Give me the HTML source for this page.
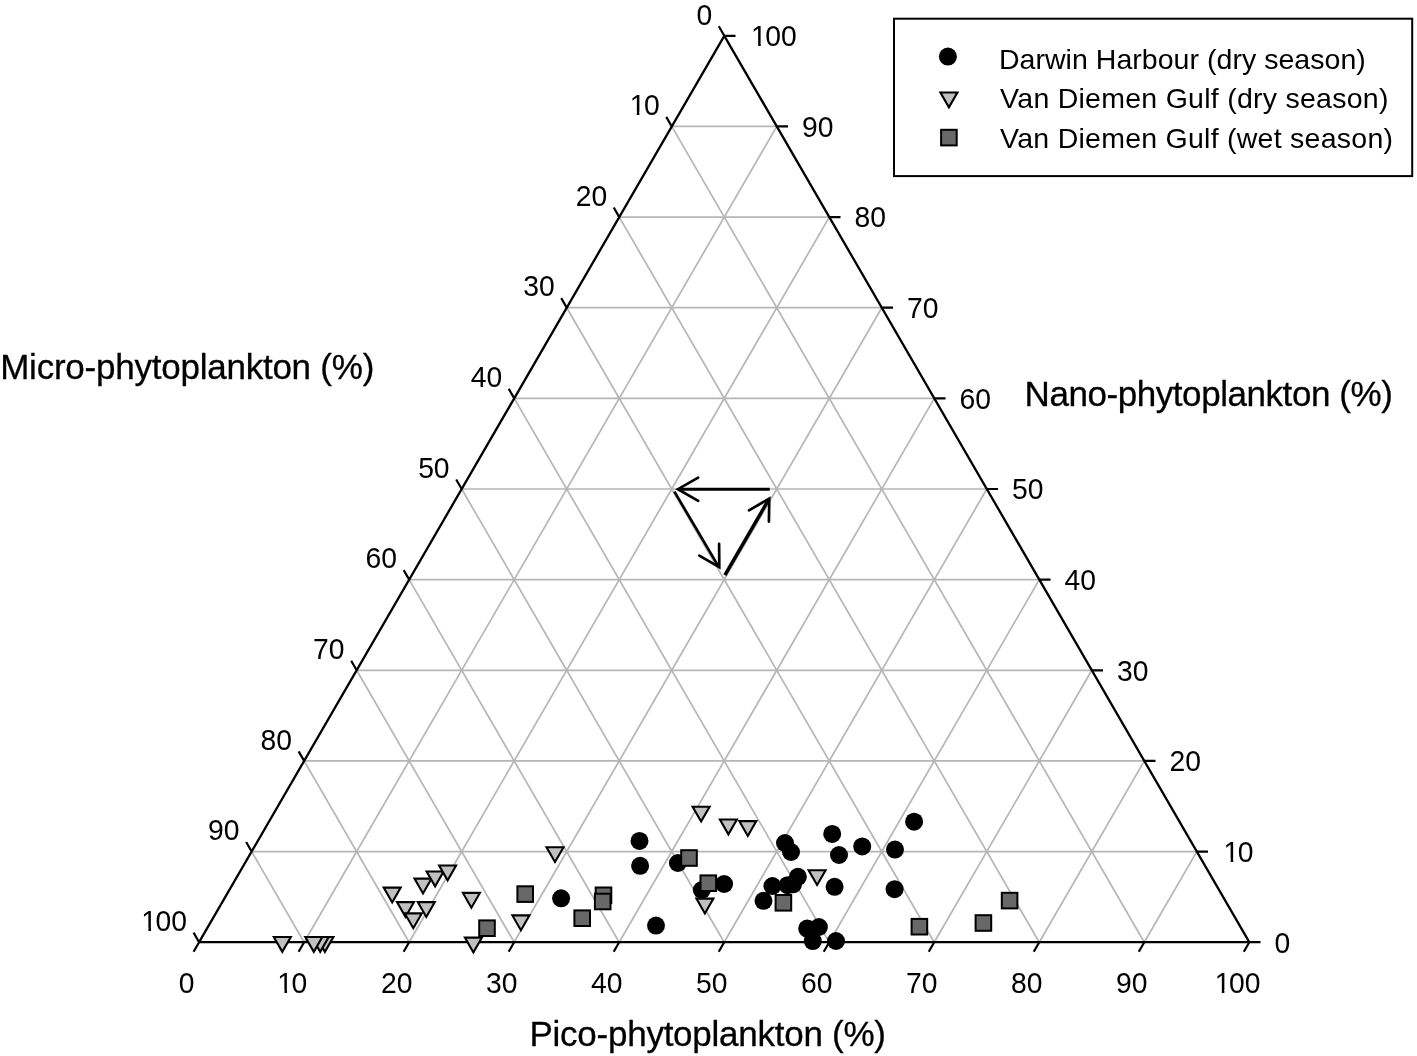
<!DOCTYPE html>
<html><head><meta charset="utf-8"><style>
html,body{margin:0;padding:0;background:#fff;overflow:hidden;}
svg{display:block;}
text{font-family:"Liberation Sans", sans-serif;fill:#000;}
.tl{font-size:28.3px;}
.ax{font-size:35px;stroke:#000;stroke-width:0.3px;}
.lg{font-size:28.5px;}
.tr{fill:#c0c0c0;stroke:#000;stroke-width:2.1;stroke-linejoin:miter;}
.sq{fill:#686868;stroke:#000;stroke-width:2;}
</style></head><body>
<svg width="1417" height="1056" viewBox="0 0 1417 1056">
<path d="M251.62 851.56L1196.8 851.56M304.12 942.2L776.8 126.44M1144.28 942.2L671.78 126.44M304.14 760.92L1144.3 760.92M409.14 942.2L829.3 217.08M1039.26 942.2L619.26 217.08M356.66 670.28L1091.8 670.28M514.16 942.2L881.8 307.72M934.24 942.2L566.74 307.72M409.18 579.64L1039.3 579.64M619.18 942.2L934.3 398.36M829.22 942.2L514.22 398.36M461.7 489L986.8 489M724.2 942.2L986.8 489M724.2 942.2L461.7 489M514.22 398.36L934.3 398.36M829.22 942.2L1039.3 579.64M619.18 942.2L409.18 579.64M566.74 307.72L881.8 307.72M934.24 942.2L1091.8 670.28M514.16 942.2L356.66 670.28M619.26 217.08L829.3 217.08M1039.26 942.2L1144.3 760.92M409.14 942.2L304.14 760.92M671.78 126.44L776.8 126.44M1144.28 942.2L1196.8 851.56M304.12 942.2L251.62 851.56" stroke="#b6b6b6" stroke-width="1.7" fill="none"/>
<path d="M199.1 942.2L1249.3 942.2L724.3 35.8Z" stroke="#000" stroke-width="2.3" fill="none" stroke-linejoin="round"/>
<path d="M724.3 35.8l-5.5 -9.55M1249.3 942.2l11.2 0M199.1 942.2l-5.5 9.55M671.78 126.44l-5.5 -9.55M1196.8 851.56l11.2 0M304.12 942.2l-5.5 9.55M619.26 217.08l-5.5 -9.55M1144.3 760.92l11.2 0M409.14 942.2l-5.5 9.55M566.74 307.72l-5.5 -9.55M1091.8 670.28l11.2 0M514.16 942.2l-5.5 9.55M514.22 398.36l-5.5 -9.55M1039.3 579.64l11.2 0M619.18 942.2l-5.5 9.55M461.7 489l-5.5 -9.55M986.8 489l11.2 0M724.2 942.2l-5.5 9.55M409.18 579.64l-5.5 -9.55M934.3 398.36l11.2 0M829.22 942.2l-5.5 9.55M356.66 670.28l-5.5 -9.55M881.8 307.72l11.2 0M934.24 942.2l-5.5 9.55M304.14 760.92l-5.5 -9.55M829.3 217.08l11.2 0M1039.26 942.2l-5.5 9.55M251.62 851.56l-5.5 -9.55M776.8 126.44l11.2 0M1144.28 942.2l-5.5 9.55M199.1 942.2l-5.5 -9.55M724.3 35.8l11.2 0M1249.3 942.2l-5.5 9.55" stroke="#000" stroke-width="2.2" fill="none" stroke-linecap="butt"/>
<mask id="ft" maskUnits="userSpaceOnUse" x="0" y="0" width="1417" height="1056"><rect width="1417" height="1056" fill="#fff"/><g fill="#000"><rect x="630.26" y="111.75" width="6.52" height="5.39"/><rect x="639.37" y="111.75" width="5.82" height="5.39"/><rect x="1224.15" y="858.47" width="6.52" height="5.39"/><rect x="1233.26" y="858.47" width="5.82" height="5.39"/><rect x="277.93" y="989.81" width="6.52" height="5.39"/><rect x="287.04" y="989.81" width="5.82" height="5.39"/><rect x="141.84" y="927.51" width="6.52" height="5.39"/><rect x="150.95" y="927.51" width="5.82" height="5.39"/><rect x="751.65" y="42.71" width="6.52" height="5.39"/><rect x="760.76" y="42.71" width="5.82" height="5.39"/><rect x="1215.24" y="989.81" width="6.52" height="5.39"/><rect x="1224.35" y="989.81" width="5.82" height="5.39"/></g></mask>
<g mask="url(#ft)"><text class="tl" transform="translate(696.47 24.5) scale(1 1.035)" dx="0">0</text><text class="tl" transform="translate(1274.6 952.5) scale(1 1.035)" dx="0">0</text><text class="tl" transform="translate(178.73 993.2) scale(1 1.035)" dx="0">0</text><text class="tl" transform="translate(628.21 115.14) scale(1 1.035)" dx="1.5 -1.5 0">10</text><text class="tl" transform="translate(1222.1 861.86) scale(1 1.035)" dx="1.5 -1.5 0">10</text><text class="tl" transform="translate(275.88 993.2) scale(1 1.035)" dx="1.5 -1.5 0">10</text><text class="tl" transform="translate(575.69 205.78) scale(1 1.035)" dx="0 0">20</text><text class="tl" transform="translate(1169.6 771.22) scale(1 1.035)" dx="0 0">20</text><text class="tl" transform="translate(380.9 993.2) scale(1 1.035)" dx="0 0">20</text><text class="tl" transform="translate(523.17 296.42) scale(1 1.035)" dx="0 0">30</text><text class="tl" transform="translate(1117.1 680.58) scale(1 1.035)" dx="0 0">30</text><text class="tl" transform="translate(485.92 993.2) scale(1 1.035)" dx="0 0">30</text><text class="tl" transform="translate(470.65 387.06) scale(1 1.035)" dx="0 0">40</text><text class="tl" transform="translate(1064.6 589.94) scale(1 1.035)" dx="0 0">40</text><text class="tl" transform="translate(590.94 993.2) scale(1 1.035)" dx="0 0">40</text><text class="tl" transform="translate(418.13 477.7) scale(1 1.035)" dx="0 0">50</text><text class="tl" transform="translate(1012.1 499.3) scale(1 1.035)" dx="0 0">50</text><text class="tl" transform="translate(695.96 993.2) scale(1 1.035)" dx="0 0">50</text><text class="tl" transform="translate(365.61 568.34) scale(1 1.035)" dx="0 0">60</text><text class="tl" transform="translate(959.6 408.66) scale(1 1.035)" dx="0 0">60</text><text class="tl" transform="translate(800.98 993.2) scale(1 1.035)" dx="0 0">60</text><text class="tl" transform="translate(313.09 658.98) scale(1 1.035)" dx="0 0">70</text><text class="tl" transform="translate(907.1 318.02) scale(1 1.035)" dx="0 0">70</text><text class="tl" transform="translate(906 993.2) scale(1 1.035)" dx="0 0">70</text><text class="tl" transform="translate(260.57 749.62) scale(1 1.035)" dx="0 0">80</text><text class="tl" transform="translate(854.6 227.38) scale(1 1.035)" dx="0 0">80</text><text class="tl" transform="translate(1011.02 993.2) scale(1 1.035)" dx="0 0">80</text><text class="tl" transform="translate(208.05 840.26) scale(1 1.035)" dx="0 0">90</text><text class="tl" transform="translate(802.1 136.74) scale(1 1.035)" dx="0 0">90</text><text class="tl" transform="translate(1116.04 993.2) scale(1 1.035)" dx="0 0">90</text><text class="tl" transform="translate(139.79 930.9) scale(1 1.035)" dx="1.5 -1.5 0 0">100</text><text class="tl" transform="translate(749.6 46.1) scale(1 1.035)" dx="1.5 -1.5 0 0">100</text><text class="tl" transform="translate(1213.19 993.2) scale(1 1.035)" dx="1.5 -1.5 0 0">100</text></g>
<text x="0.2" y="378.5" class="ax" textLength="374.1" lengthAdjust="spacing">Micro-phytoplankton (%)</text>
<text x="1024.6" y="406" class="ax" textLength="368.2" lengthAdjust="spacing">Nano-phytoplankton (%)</text>
<text x="529.5" y="1045.9" class="ax" textLength="356.5" lengthAdjust="spacing">Pico-phytoplankton (%)</text>
<g fill="none" stroke="#000"><path d="M769.8 489.2L679 489.2" stroke-width="2.9"/><path d="M698.2 477.6L677.9 489.2L698.2 500.9" stroke-width="2.7" stroke-linecap="round" stroke-linejoin="miter" stroke-miterlimit="10"/><path d="M674.4 491.6L718 565.6" stroke-width="2.7"/><path d="M719.1 543.8L719.3 567.2L699.3 555.7" stroke-width="2.7" stroke-linecap="round" stroke-linejoin="miter" stroke-miterlimit="10"/><path d="M724.9 575.2L768.2 500.4" stroke-width="3.5"/><path d="M768.9 521.6L769.3 498.6L749 510.3" stroke-width="2.7" stroke-linecap="round" stroke-linejoin="miter" stroke-miterlimit="10"/></g>
<path d="M273.8 937L290.8 937L282.3 951.8Z" class="tr"/>
<path d="M316.4 937L333.4 937L324.9 951.8Z" class="tr"/>
<path d="M311.7 937L328.7 937L320.2 951.8Z" class="tr"/>
<path d="M305.3 937L322.3 937L313.8 951.8Z" class="tr"/>
<path d="M383.7 887.6L400.7 887.6L392.2 902.4Z" class="tr"/>
<path d="M397 902.1L414 902.1L405.5 916.9Z" class="tr"/>
<path d="M417.8 902.1L434.8 902.1L426.3 916.9Z" class="tr"/>
<path d="M404.8 913.4L421.8 913.4L413.3 928.2Z" class="tr"/>
<path d="M414.5 878.6L431.5 878.6L423 893.4Z" class="tr"/>
<path d="M426.6 871.5L443.6 871.5L435.1 886.3Z" class="tr"/>
<path d="M439.1 865.5L456.1 865.5L447.6 880.3Z" class="tr"/>
<path d="M462.9 892.9L479.9 892.9L471.4 907.7Z" class="tr"/>
<path d="M512.4 915.4L529.4 915.4L520.9 930.2Z" class="tr"/>
<path d="M546.5 847.2L563.5 847.2L555 862Z" class="tr"/>
<path d="M692.6 806.7L709.6 806.7L701.1 821.5Z" class="tr"/>
<path d="M719.9 819.5L736.9 819.5L728.4 834.3Z" class="tr"/>
<path d="M739.3 821.1L756.3 821.1L747.8 835.9Z" class="tr"/>
<path d="M808.6 870.2L825.6 870.2L817.1 885Z" class="tr"/>
<circle cx="561.1" cy="898.3" r="9" fill="#000"/>
<circle cx="639.5" cy="840.9" r="9" fill="#000"/>
<circle cx="640.1" cy="865.8" r="9" fill="#000"/>
<circle cx="677.9" cy="863" r="9" fill="#000"/>
<circle cx="656" cy="925.6" r="9" fill="#000"/>
<circle cx="701.8" cy="890" r="9" fill="#000"/>
<circle cx="724.1" cy="884" r="9" fill="#000"/>
<circle cx="785" cy="843" r="9" fill="#000"/>
<circle cx="791" cy="852" r="9" fill="#000"/>
<circle cx="832.2" cy="833.9" r="9" fill="#000"/>
<circle cx="839" cy="855" r="9" fill="#000"/>
<circle cx="862.2" cy="846.4" r="9" fill="#000"/>
<circle cx="914.1" cy="821.7" r="9" fill="#000"/>
<circle cx="895" cy="849.6" r="9" fill="#000"/>
<circle cx="834.6" cy="886.8" r="9" fill="#000"/>
<circle cx="894.6" cy="889.2" r="9" fill="#000"/>
<circle cx="772.4" cy="886" r="9" fill="#000"/>
<circle cx="787.6" cy="885.2" r="9" fill="#000"/>
<circle cx="793" cy="884.3" r="9" fill="#000"/>
<circle cx="797.9" cy="876.8" r="9" fill="#000"/>
<circle cx="763.5" cy="900.8" r="9" fill="#000"/>
<circle cx="807.2" cy="928.6" r="9" fill="#000"/>
<circle cx="818.9" cy="927" r="9" fill="#000"/>
<circle cx="812.8" cy="941.1" r="9" fill="#000"/>
<circle cx="836" cy="941" r="9" fill="#000"/>
<rect x="479.2" y="920.4" width="15.6" height="15.6" class="sq"/>
<rect x="517.4" y="886.3" width="15.6" height="15.6" class="sq"/>
<rect x="595.7" y="887.5" width="15.6" height="15.6" class="sq"/>
<rect x="594.9" y="893.7" width="15.6" height="15.6" class="sq"/>
<rect x="574.4" y="910.4" width="15.6" height="15.6" class="sq"/>
<rect x="681.2" y="850.2" width="15.6" height="15.6" class="sq"/>
<rect x="700.5" y="875.4" width="15.6" height="15.6" class="sq"/>
<rect x="775.6" y="895" width="15.6" height="15.6" class="sq"/>
<rect x="911.6" y="918.9" width="15.6" height="15.6" class="sq"/>
<rect x="975.6" y="915.2" width="15.6" height="15.6" class="sq"/>
<rect x="1001.8" y="892.8" width="15.6" height="15.6" class="sq"/>
<path d="M464.9 937.6L481.9 937.6L473.4 952.4Z" class="tr"/>
<path d="M696.4 898.6L713.4 898.6L704.9 913.4Z" class="tr"/>
<rect x="894" y="18.7" width="518.2" height="157.4" fill="none" stroke="#000" stroke-width="2"/>
<circle cx="947.9" cy="56.6" r="9" fill="#000"/>
<path d="M940.4 92.5L957.4 92.5L948.9 107.3Z" class="tr"/>
<rect x="941.1" y="129.8" width="15.6" height="15.6" class="sq"/>
<text x="998.9" y="68.7" class="lg" textLength="366.9" lengthAdjust="spacing">Darwin Harbour (dry season)</text>
<text x="1000.1" y="107.8" class="lg" textLength="388.3" lengthAdjust="spacing">Van Diemen Gulf (dry season)</text>
<text x="1000.1" y="148" class="lg" textLength="392.9" lengthAdjust="spacing">Van Diemen Gulf (wet season)</text>
</svg>
</body></html>
